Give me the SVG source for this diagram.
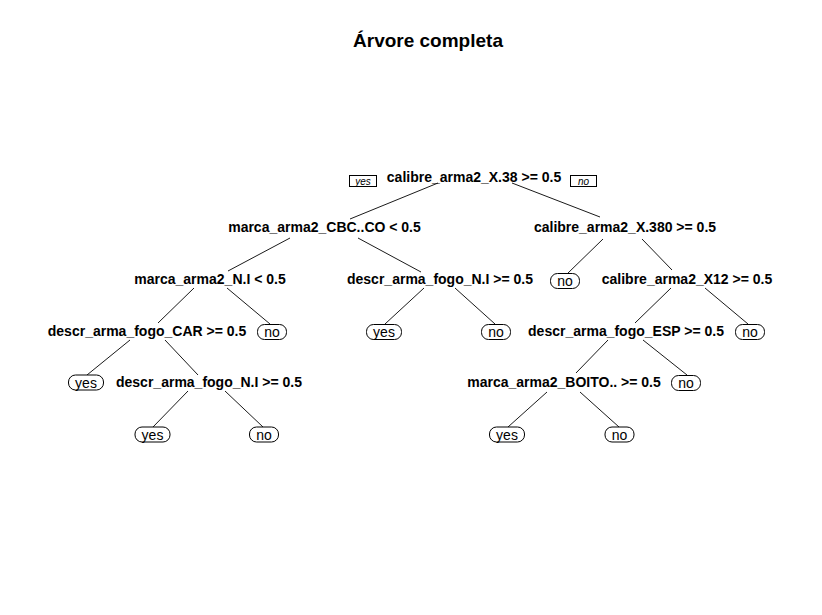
<svg xmlns="http://www.w3.org/2000/svg" width="822" height="615" viewBox="0 0 822 615">
<style>
.t{font-family:"Liberation Sans",Arial,sans-serif;font-size:19px;font-weight:bold;text-anchor:middle;fill:#000}
.s{font-family:"Liberation Sans",Arial,sans-serif;font-size:14px;font-weight:bold;text-anchor:middle;fill:#000}
.l{font-family:"Liberation Sans",Arial,sans-serif;font-size:14px;text-anchor:middle;fill:#000}
.yn{font-family:"Liberation Sans",Arial,sans-serif;font-size:10px;font-style:italic;text-anchor:middle;fill:#000}
.box{fill:#fff;stroke:#000;stroke-width:1}
.leaf{fill:#fff;stroke:#000;stroke-width:1}
.c line{stroke:#000;stroke-width:0.9}
</style>
<rect width="822" height="615" fill="#fff"/>
<text class="t" x="428" y="47">Árvore completa</text>
<g id="connectors" class="c">
<line x1="438" y1="183" x2="350" y2="219"/>
<line x1="512" y1="183" x2="600" y2="217"/>
<line x1="290" y1="238" x2="228" y2="271"/>
<line x1="358" y1="238" x2="421" y2="272"/>
<line x1="603" y1="239" x2="567" y2="274"/>
<line x1="642" y1="239" x2="672" y2="270"/>
<line x1="194" y1="288" x2="158" y2="323"/>
<line x1="227" y1="288" x2="270" y2="324"/>
<line x1="424" y1="288" x2="385" y2="324"/>
<line x1="455" y1="288" x2="495" y2="324"/>
<line x1="671" y1="288" x2="635" y2="323"/>
<line x1="705" y1="288" x2="748" y2="324"/>
<line x1="130" y1="340" x2="87" y2="375"/>
<line x1="165" y1="340" x2="198" y2="375"/>
<line x1="608" y1="340" x2="576" y2="373"/>
<line x1="643" y1="340" x2="687" y2="375"/>
<line x1="188" y1="391" x2="153" y2="427"/>
<line x1="225" y1="391" x2="263" y2="427"/>
<line x1="547" y1="392" x2="508" y2="427"/>
<line x1="580" y1="392" x2="619" y2="427"/>
</g>
<g id="n1"><text class="s" x="474" y="182">calibre_arma2_X.38 &gt;= 0.5</text>
<rect class="box" x="349.5" y="175.5" width="27" height="11"/><text class="yn" x="363" y="184.5">yes</text>
<rect class="box" x="570.5" y="175.5" width="26" height="11"/><text class="yn" x="583.5" y="184.5">no</text></g>
<g id="n2"><text class="s" x="324.5" y="232">marca_arma2_CBC..CO &lt; 0.5</text></g>
<g id="n3"><text class="s" x="625" y="232">calibre_arma2_X.380 &gt;= 0.5</text></g>
<g id="n4"><text class="s" x="210" y="284">marca_arma2_N.I &lt; 0.5</text></g>
<g id="n5"><text class="s" x="440" y="283.5">descr_arma_fogo_N.I &gt;= 0.5</text></g>
<g id="n6"><rect class="leaf" x="550.5" y="273.5" width="29" height="15" rx="7"/><text class="l" x="565" y="286">no</text></g>
<g id="n7"><text class="s" x="687" y="283.5">calibre_arma2_X12 &gt;= 0.5</text></g>
<g id="n8"><text class="s" x="147" y="336">descr_arma_fogo_CAR &gt;= 0.5</text></g>
<g id="n9"><rect class="leaf" x="257.5" y="324.5" width="29" height="15" rx="7"/><text class="l" x="272" y="337">no</text></g>
<g id="n10"><rect class="leaf" x="366.5" y="324.5" width="35" height="15" rx="7"/><text class="l" x="384" y="337">yes</text></g>
<g id="n11"><rect class="leaf" x="481.5" y="324.5" width="29" height="15" rx="7"/><text class="l" x="496" y="337">no</text></g>
<g id="n12"><text class="s" x="626" y="336">descr_arma_fogo_ESP &gt;= 0.5</text></g>
<g id="n13"><rect class="leaf" x="735.5" y="324.5" width="29" height="15" rx="7"/><text class="l" x="750" y="337">no</text></g>
<g id="n14"><rect class="leaf" x="68.5" y="375" width="35" height="15" rx="7"/><text class="l" x="86" y="387.5">yes</text></g>
<g id="n15"><text class="s" x="209" y="387">descr_arma_fogo_N.I &gt;= 0.5</text></g>
<g id="n16"><text class="s" x="564" y="387">marca_arma2_BOITO.. &gt;= 0.5</text></g>
<g id="n17"><rect class="leaf" x="671.5" y="375.5" width="29" height="15" rx="7"/><text class="l" x="686" y="388">no</text></g>
<g id="n18"><rect class="leaf" x="135" y="427" width="35" height="15" rx="7"/><text class="l" x="152.5" y="439.5">yes</text></g>
<g id="n19"><rect class="leaf" x="249.5" y="427" width="29" height="15" rx="7"/><text class="l" x="264" y="439.5">no</text></g>
<g id="n20"><rect class="leaf" x="489.5" y="427" width="35" height="15" rx="7"/><text class="l" x="507" y="439.5">yes</text></g>
<g id="n21"><rect class="leaf" x="605" y="427" width="29" height="15" rx="7"/><text class="l" x="619.5" y="439.5">no</text></g>
</svg>
